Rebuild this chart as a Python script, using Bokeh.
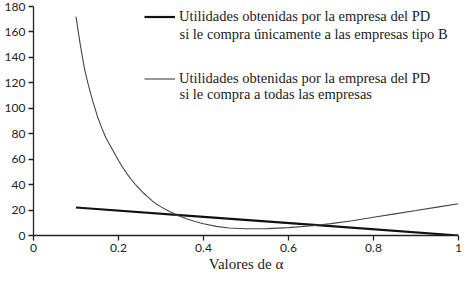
from bokeh.plotting import figure
from bokeh.models import (ColumnDataSource, Range1d, FixedTicker, Legend, LegendItem, Label)
from bokeh.embed import file_html
from bokeh.resources import INLINE

# ---- data ----
alpha_b = [0.1, 0.4, 0.7, 1.0]
util_b = [22.0, 14.7, 7.4, 0.0]

alpha_all = [0.10, 0.11, 0.12, 0.13, 0.14, 0.15, 0.16, 0.17, 0.18, 0.19,
             0.20, 0.21, 0.22, 0.23, 0.24, 0.25, 0.26, 0.27, 0.28, 0.29,
             0.30, 0.32, 0.34, 0.36, 0.38, 0.40, 0.43, 0.46, 0.50, 0.55,
             0.60, 0.65, 0.70, 0.75, 0.80, 0.85, 0.90, 0.95, 1.00]
util_all = [172, 150, 131, 117, 105, 94, 85, 77, 71, 65,
            59, 53.5, 48.5, 44, 40, 36.5, 33, 30, 27, 24.5,
            22.5, 18.8, 15.8, 13.2, 11.0, 9.2, 7.2, 5.9, 5.3, 5.4,
            6.2, 7.5, 9.3, 11.6, 14.3, 17, 19.6, 22.3, 25]

x_ticks = [0, 0.2, 0.4, 0.6, 0.8, 1.0]
x_tick_labels = ["0", "0.2", "0.4", "0.6", "0.8", "1"]
y_ticks = [0, 20, 40, 60, 80, 100, 120, 140, 160, 180]

label_b = ["Utilidades obtenidas por la empresa del PD",
           "si le compra únicamente a las empresas tipo B"]
label_all = ["Utilidades obtenidas por la empresa del PD",
             "si le compra a todas las empresas"]
x_title = "Valores de α"

SANS = "Lato"
SERIF = "Liberation Serif"
TXT = "#222222"

p = figure(width=463, height=274, output_backend="svg", toolbar_location=None,
           x_range=Range1d(0, 1), y_range=Range1d(0, 180),
           min_border_left=33, min_border_right=5, min_border_top=6,
           min_border_bottom=38)
p.outline_line_color = None
p.grid.grid_line_color = None
p.background_fill_color = "white"
p.border_fill_color = "white"

src_b = ColumnDataSource(dict(x=alpha_b, y=util_b))
src_all = ColumnDataSource(dict(x=alpha_all, y=util_all))
r_b = p.line("x", "y", source=src_b, line_color="#111111", line_width=2.2)
r_all = p.line("x", "y", source=src_all, line_color="#444444", line_width=1.1)

for ax in (p.xaxis[0], p.yaxis[0]):
    ax.axis_line_color = TXT
    ax.axis_line_width = 1.3
    ax.major_tick_line_color = TXT
    ax.major_tick_line_width = 1.3
    ax.major_tick_in = 0
    ax.major_tick_out = 5
    ax.minor_tick_line_color = None
    ax.major_label_text_font = SANS
    ax.major_label_text_font_size = "12px"
    ax.major_label_text_color = TXT
    ax.major_label_standoff = 3

p.xaxis.ticker = FixedTicker(ticks=x_ticks)
p.xaxis.major_label_overrides = {t: l for t, l in zip(x_ticks, x_tick_labels)}
p.yaxis.ticker = FixedTicker(ticks=y_ticks)

p.xaxis.axis_label = x_title
p.xaxis.axis_label_text_font = SERIF
p.xaxis.axis_label_text_font_style = "normal"
p.xaxis.axis_label_text_font_size = "15px"
p.xaxis.axis_label_text_color = TXT
p.xaxis.axis_label_standoff = 1

FS = "14.5px"
LEG_X, GW, STAND = 111, 31, 4
legend = Legend(items=[LegendItem(label=label_b[0], renderers=[r_b]),
                       LegendItem(label=label_all[0], renderers=[r_all])],
                location=(LEG_X, 148), orientation="vertical",
                padding=0, margin=0, spacing=45,
                border_line_color=None, background_fill_alpha=0,
                glyph_width=GW, glyph_height=17, label_standoff=STAND,
                label_text_font=SERIF, label_text_font_size=FS,
                label_text_color=TXT, label_height=17)
p.add_layout(legend, "center")

for txt, yy in ((label_b[1], 202), (label_all[1], 142)):
    p.add_layout(Label(x=LEG_X + GW + STAND, y=yy, x_units="screen", y_units="screen",
                       text=txt, text_font=SERIF, text_font_size=FS,
                       text_color=TXT, text_baseline="middle", text_align="left"))

open("out.html", "w").write(file_html(p, INLINE))
